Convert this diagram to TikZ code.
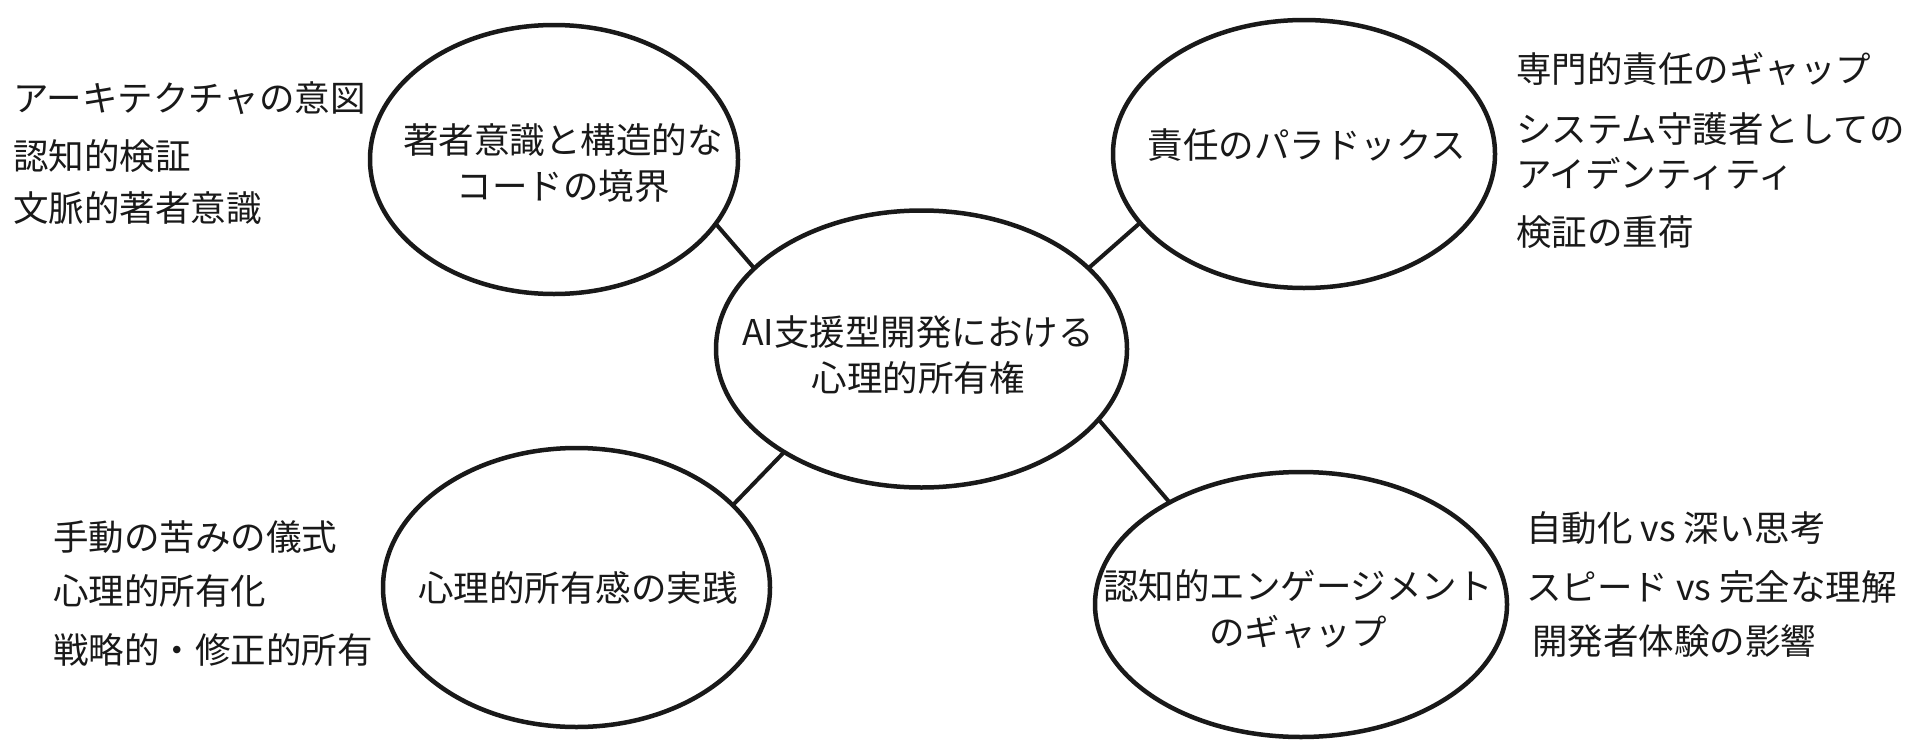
\documentclass[tikz,border=0pt]{standalone}
\usepackage{fontspec}
\setmainfont{Noto Sans CJK JP}
\usetikzlibrary{shapes.geometric}
\begin{document}
\begin{tikzpicture}[x=1pt,y=-1pt]
\tikzset{
  bubble/.style={ellipse, draw=black!90, line width=4.5pt, inner sep=0pt},
  conn/.style={draw=black!90, line width=4pt, line cap=round},
  midtext/.style={font=\fontsize{35.5}{46}\selectfont, align=center, inner sep=0pt, text=black!90},
  leaf/.style={font=\fontsize{35.5}{45}\selectfont, anchor=west, inner sep=0pt, align=left, text=black!90},
}
\useasboundingbox[fill=white] (0,0) rectangle (1924,747);

% bubbles
\node[bubble, minimum width=368pt, minimum height=269pt] (tl) at (554,159.5) {};
\node[bubble, minimum width=382pt, minimum height=268pt] (tr) at (1304,154) {};
\node[bubble, minimum width=411pt, minimum height=277pt] (c)  at (921.5,349) {};
\node[bubble, minimum width=387pt, minimum height=279pt] (bl) at (576.5,587.5) {};
\node[bubble, minimum width=412pt, minimum height=265pt] (br) at (1301,604.5) {};

% bubble texts
\node[midtext] (tlt) at (563,163.5) {著者意識と構造的な\\コードの境界};
\node[midtext] (trt) at (1307,145) {責任のパラドックス};
\node[midtext] (ct)  at (918,355) {AI支援型開発における\\心理的所有権};
\node[midtext] (blt) at (578,588) {心理的所有感の実践};
\node[midtext] (brt) at (1298,609) {認知的エンゲージメント\\のギャップ};

% connectors
\draw[conn] (c.154.9) -- (tl.-22.9);
\draw[conn] (c.26.5) -- (tr.-157.5);
\draw[conn] (c.-143.4) -- (bl.28.6);
\draw[conn] (c.-22.9) -- (br.142.2);

% leaves top-left
\node[leaf] (l1) at (13,98)  {アーキテクチャの意図};
\node[leaf] (l2) at (13,156) {認知的検証};
\node[leaf] (l3) at (13,208) {文脈的著者意識};
% leaves top-right
\node[leaf] (r1) at (1516,69)  {専門的責任のギャップ};
\node[leaf] (r2) at (1516,151) {システム守護者としての\\アイデンティティ};
\node[leaf] (r3) at (1516,232) {検証の重荷};
% leaves bottom-left
\node[leaf] (b1) at (53,537) {手動の苦みの儀式};
\node[leaf] (b2) at (53,591) {心理的所有化};
\node[leaf] (b3) at (53,650) {戦略的・修正的所有};
% leaves bottom-right
\node[leaf] (d1) at (1526,528) {自動化 vs 深い思考};
\node[leaf] (d2) at (1526,587) {スピード vs 完全な理解};
\node[leaf] (d3) at (1532,641) {開発者体験の影響};
\end{tikzpicture}
\end{document}
